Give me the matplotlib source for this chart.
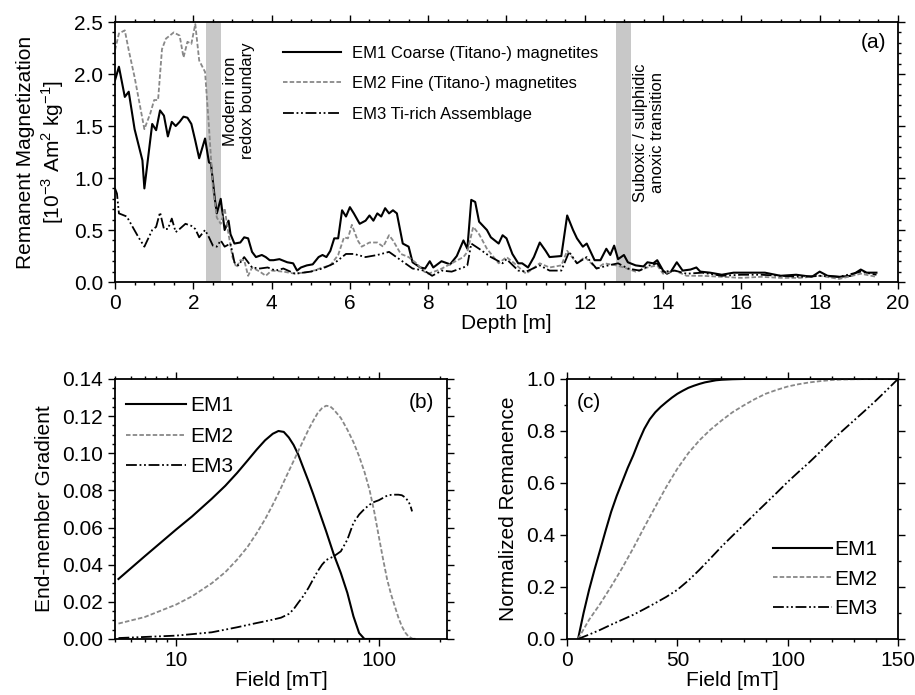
import numpy as np
import matplotlib.pyplot as plt
from matplotlib.ticker import MultipleLocator, LogLocator, FixedLocator, NullFormatter

plt.rcParams['font.family'] = ['Liberation Sans', 'DejaVu Sans']
plt.rcParams['mathtext.fontset'] = 'custom'
plt.rcParams['mathtext.rm'] = 'Liberation Sans'

# ---- panel (a): unmixed end-member magnetizations vs depth ----
depth_em1 = [0.0, 0.1, 0.25, 0.35, 0.5, 0.7, 0.75, 0.95, 1.05, 1.15, 1.25, 1.35, 1.45, 1.55,
             1.65, 1.75, 1.85, 1.95, 2.05, 2.15, 2.3, 2.4, 2.45, 2.55, 2.6, 2.7, 2.8, 2.9,
             2.95, 3.05, 3.2, 3.3, 3.4, 3.5, 3.6, 3.75, 3.85, 3.95, 4.05, 4.2, 4.4, 4.55,
             4.65, 4.75, 4.9, 5.05, 5.2, 5.3, 5.4, 5.5, 5.6, 5.7, 5.8, 5.9, 6.0, 6.1, 6.25,
             6.4, 6.5, 6.6, 6.7, 6.8, 6.9, 7.0, 7.1, 7.2, 7.35, 7.5, 7.6, 7.8, 7.92, 8.04,
             8.13, 8.34, 8.56, 8.73, 8.9, 9.0, 9.1, 9.2, 9.3, 9.5, 9.6, 9.8, 9.9, 10.0,
             10.15, 10.3, 10.4, 10.55, 10.7, 10.85, 11.0, 11.1, 11.4, 11.55, 11.7, 11.8,
             11.95, 12.05, 12.15, 12.25, 12.4, 12.55, 12.65, 12.75, 12.85, 13.0, 13.1, 13.3,
             13.5, 13.6, 13.75, 13.85, 14.0, 14.1, 14.2, 14.35, 14.5, 14.7, 14.85, 14.95,
             15.2, 15.5, 15.8, 16.2, 16.6, 17.0, 17.4, 17.8, 18.0, 18.2, 18.5, 18.8, 19.05,
             19.2, 19.45]
em1 = [1.94, 2.07, 1.78, 1.83, 1.47, 1.17, 0.90, 1.52, 1.46, 1.65, 1.60, 1.40, 1.54, 1.50,
       1.54, 1.59, 1.58, 1.52, 1.36, 1.19, 1.38, 1.15, 1.14, 0.80, 0.66, 0.80, 0.50, 0.59,
       0.46, 0.37, 0.38, 0.43, 0.42, 0.29, 0.24, 0.26, 0.24, 0.21, 0.21, 0.22, 0.19, 0.18,
       0.11, 0.14, 0.16, 0.17, 0.24, 0.26, 0.24, 0.30, 0.42, 0.42, 0.69, 0.63, 0.72, 0.66,
       0.56, 0.59, 0.64, 0.59, 0.66, 0.63, 0.71, 0.66, 0.69, 0.66, 0.37, 0.34, 0.19, 0.14,
       0.13, 0.20, 0.14, 0.20, 0.17, 0.25, 0.40, 0.32, 0.79, 0.77, 0.58, 0.50, 0.43, 0.37,
       0.45, 0.42, 0.27, 0.18, 0.18, 0.14, 0.24, 0.38, 0.30, 0.24, 0.25, 0.64, 0.50, 0.42,
       0.34, 0.37, 0.29, 0.21, 0.21, 0.32, 0.26, 0.35, 0.22, 0.26, 0.19, 0.16, 0.15, 0.19,
       0.18, 0.21, 0.11, 0.08, 0.10, 0.19, 0.11, 0.12, 0.14, 0.10, 0.09, 0.07, 0.09, 0.09,
       0.09, 0.06, 0.07, 0.05, 0.10, 0.06, 0.05, 0.06, 0.12, 0.09, 0.09]

depth_em2 = [0.0, 0.1, 0.25, 0.35, 0.5, 0.75, 0.9, 1.0, 1.1, 1.2, 1.3, 1.5, 1.65, 1.75, 1.85,
             1.95, 2.05, 2.15, 2.3, 2.4, 2.5, 2.6, 2.7, 2.8, 2.9, 3.0, 3.1, 3.2, 3.3, 3.4,
             3.5, 3.7, 3.85, 4.0, 4.3, 4.6, 5.0, 5.3, 5.5, 5.7, 5.85, 5.95, 6.05, 6.2, 6.3,
             6.5, 6.7, 6.85, 7.0, 7.1, 7.3, 7.5, 7.7, 7.9, 8.0, 8.3, 8.6, 8.9, 9.0, 9.15,
             9.3, 9.5, 9.8, 10.0, 10.2, 10.5, 10.85, 11.1, 11.4, 11.55, 11.8, 12.0, 12.3,
             12.5, 12.8, 13.0, 13.3, 13.6, 13.85, 14.0, 14.3, 14.6, 15.0, 15.5, 16.0, 16.5,
             17.0, 17.5, 18.0, 18.5, 19.05, 19.45]
em2 = [2.23, 2.39, 2.42, 2.23, 1.97, 1.47, 1.62, 1.75, 1.75, 2.24, 2.34, 2.40, 2.37, 2.16,
       2.31, 2.29, 2.48, 2.13, 2.02, 1.49, 0.91, 0.62, 0.56, 0.71, 0.46, 0.24, 0.14, 0.21,
       0.21, 0.06, 0.14, 0.10, 0.06, 0.11, 0.10, 0.08, 0.10, 0.14, 0.16, 0.26, 0.43, 0.42,
       0.55, 0.40, 0.34, 0.38, 0.38, 0.34, 0.45, 0.40, 0.27, 0.24, 0.18, 0.10, 0.08, 0.12,
       0.18, 0.24, 0.29, 0.53, 0.46, 0.32, 0.18, 0.24, 0.18, 0.08, 0.18, 0.14, 0.16, 0.30,
       0.18, 0.24, 0.13, 0.18, 0.16, 0.14, 0.10, 0.14, 0.16, 0.08, 0.11, 0.06, 0.06, 0.05,
       0.04, 0.05, 0.04, 0.04, 0.06, 0.03, 0.08, 0.05]

depth_em3 = [0.0, 0.05, 0.1, 0.3, 0.45, 0.6, 0.75, 0.95, 1.05, 1.15, 1.25, 1.35, 1.45, 1.55,
             1.65, 1.8, 1.95, 2.05, 2.15, 2.3, 2.4, 2.5, 2.6, 2.7, 2.8, 2.95, 3.05, 3.15,
             3.3, 3.5, 3.7, 3.9, 4.1, 4.3, 4.6, 5.0, 5.3, 5.6, 5.9, 6.1, 6.4, 6.7, 7.0, 7.3,
             7.6, 7.9, 8.1, 8.35, 8.6, 8.9, 9.0, 9.1, 9.3, 9.6, 9.9, 10.0, 10.3, 10.5, 10.85,
             11.1, 11.4, 11.6, 11.8, 12.05, 12.3, 12.6, 12.85, 13.1, 13.4, 13.65, 13.85, 14.0,
             14.3, 14.6, 15.0, 15.5, 16.0, 16.5, 17.0, 17.5, 18.0, 18.5, 19.05, 19.45]
em3 = [0.90, 0.85, 0.66, 0.63, 0.53, 0.43, 0.34, 0.50, 0.53, 0.67, 0.51, 0.51, 0.61, 0.48,
       0.51, 0.56, 0.54, 0.51, 0.43, 0.50, 0.43, 0.35, 0.34, 0.40, 0.34, 0.37, 0.19, 0.16,
       0.24, 0.14, 0.13, 0.14, 0.11, 0.13, 0.08, 0.10, 0.13, 0.18, 0.27, 0.27, 0.24, 0.26,
       0.29, 0.21, 0.13, 0.11, 0.06, 0.11, 0.10, 0.14, 0.16, 0.37, 0.32, 0.24, 0.18, 0.22,
       0.11, 0.10, 0.16, 0.11, 0.11, 0.29, 0.18, 0.24, 0.13, 0.16, 0.18, 0.13, 0.11, 0.16,
       0.18, 0.10, 0.11, 0.08, 0.09, 0.06, 0.07, 0.07, 0.06, 0.05, 0.06, 0.05, 0.10, 0.07]

bands = [(2.33, 2.71), (12.8, 13.17)]
band_labels = ["Modern iron\nredox boundary", "Suboxic / sulphidic\nanoxic transition"]
band_label_top = [2.30, 2.10]
legend_a = ["EM1 Coarse (Titano-) magnetites", "EM2 Fine (Titano-) magnetites",
            "EM3 Ti-rich Assemblage"]

# ---- panel (b): end-member coercivity gradients (log field) ----
field_b1 = [5.2, 7, 10, 12, 15, 17.5, 20, 22.5, 25, 27.5, 30, 32, 34, 36, 38, 40, 42.5, 45,
            47.5, 50, 55, 60, 65, 70, 75, 80, 85, 150]
grad_em1 = [0.0323, 0.0445, 0.0589, 0.0660, 0.0755, 0.0825, 0.0894, 0.0960, 0.1020, 0.1070,
            0.1105, 0.1120, 0.1115, 0.1085, 0.1045, 0.0995, 0.0920, 0.0850, 0.0780, 0.0710,
            0.0580, 0.0455, 0.0355, 0.0248, 0.0122, 0.0032, 0.0, 0.0]
field_b2 = [5.2, 7, 10, 12, 15, 17.5, 20, 22.5, 25, 27.5, 30, 32.5, 35, 37.5, 40, 42.5, 45,
            47.5, 50, 52.5, 55, 57.5, 60, 65, 70, 75, 80, 85, 90, 95, 100, 105, 110, 115,
            120, 125, 130, 135, 140, 146]
grad_em2 = [0.0083, 0.0118, 0.0185, 0.0230, 0.0300, 0.0360, 0.0427, 0.0495, 0.0570, 0.0645,
            0.0723, 0.0800, 0.0876, 0.0945, 0.1010, 0.1070, 0.1127, 0.1175, 0.1217, 0.1243,
            0.1256, 0.1253, 0.1235, 0.1190, 0.1127, 0.1060, 0.0984, 0.0900, 0.0804, 0.0685,
            0.0553, 0.0430, 0.0320, 0.0240, 0.0176, 0.0115, 0.0068, 0.0035, 0.0014, 0.0003]
field_b3 = [5.2, 10, 15, 20, 25, 30, 33, 36, 38, 40, 42.5, 45, 47.5, 50, 52.5, 55, 60, 65, 70,
            75, 80, 85, 90, 95, 100, 110, 115, 120, 125, 130, 135, 140, 143, 146]
grad_em3 = [0.0005, 0.0018, 0.0036, 0.0063, 0.0086, 0.0104, 0.0115, 0.0135, 0.0160, 0.0194,
            0.0232, 0.0275, 0.0322, 0.0365, 0.0400, 0.0425, 0.0445, 0.0472, 0.0535, 0.0625,
            0.0670, 0.0700, 0.0723, 0.0738, 0.0747, 0.0772, 0.0776, 0.0777, 0.0777, 0.0774,
            0.0762, 0.0741, 0.0720, 0.0687]

# ---- panel (c): normalized cumulative remanence ----
field_c1 = [5, 7.5, 10, 12.5, 15, 17.5, 20, 22.5, 25, 27.5, 30, 32.5, 35, 37.5, 40, 42.5, 45,
            47.5, 50, 52.5, 55, 57.5, 60, 62.5, 65, 67.5, 70, 75, 80, 150]
rem_em1 = [0.0, 0.100, 0.189, 0.268, 0.342, 0.417, 0.489, 0.550, 0.604, 0.658, 0.706, 0.760,
           0.808, 0.845, 0.872, 0.893, 0.911, 0.928, 0.943, 0.955, 0.966, 0.974, 0.981,
           0.987, 0.991, 0.995, 0.997, 0.999, 1.0, 1.0]
field_c2 = [5, 10, 15, 20, 25, 30, 35, 40, 45, 50, 55, 60, 65, 70, 75, 80, 85, 90, 95, 100,
            105, 110, 115, 120, 125, 130, 140, 150]
rem_em2 = [0.0, 0.074, 0.135, 0.202, 0.273, 0.349, 0.430, 0.508, 0.585, 0.655, 0.715, 0.764,
           0.805, 0.840, 0.872, 0.898, 0.922, 0.943, 0.958, 0.971, 0.980, 0.987, 0.992, 0.996,
           0.998, 0.999, 1.0, 1.0]
field_c3 = [5, 10, 15, 20, 25, 30, 35, 40, 45, 50, 55, 60, 65, 70, 75, 80, 85, 90, 95, 100,
            105, 110, 115, 120, 125, 130, 135, 140, 145, 150]
rem_em3 = [0.0, 0.017, 0.035, 0.055, 0.074, 0.093, 0.115, 0.138, 0.162, 0.189, 0.225, 0.266,
           0.310, 0.355, 0.397, 0.438, 0.480, 0.521, 0.562, 0.604, 0.643, 0.681, 0.722, 0.764,
           0.802, 0.840, 0.878, 0.917, 0.958, 1.0]

sty1 = dict(color="black", lw=1.5, ls="-")
sty2 = dict(color="#888888", lw=1.3, ls=(0, (2.5, 1.2)))
sty3 = dict(color="black", lw=1.3, ls=(0, (6, 1.5, 1, 1.5, 1, 1.5)))

FS = 15


def style_axes(ax):
    ax.tick_params(which="both", direction="out", top=True, right=True, labelsize=FS,
                   width=1.0)
    ax.tick_params(which="major", length=5)
    ax.tick_params(which="minor", length=2.5)
    for s in ax.spines.values():
        s.set_linewidth(1.3)


fig = plt.figure(figsize=(9.15, 6.95), dpi=100)
ax_a = fig.add_axes([0.1257, 0.5942, 0.8557, 0.3741])
ax_b = fig.add_axes([0.1257, 0.0806, 0.3628, 0.3741])
ax_c = fig.add_axes([0.6197, 0.0806, 0.3617, 0.3741])

# (a)
for (x0, x1), txt, ytop in zip(bands, band_labels, band_label_top):
    ax_a.axvspan(x0, x1, color="#c8c8c8", lw=0, zorder=0)
    ax_a.text(x1 + 0.05, ytop, txt, rotation=90, ha="left", va="top", fontsize=12,
              multialignment="center")
ax_a.plot(depth_em1, em1, label=legend_a[0], **sty1)
ax_a.plot(depth_em2, em2, label=legend_a[1], **sty2)
ax_a.plot(depth_em3, em3, label=legend_a[2], **sty3)
ax_a.set_xlim(0, 20)
ax_a.set_ylim(0, 2.5)
ax_a.xaxis.set_major_locator(MultipleLocator(2))
ax_a.xaxis.set_minor_locator(MultipleLocator(0.5))
ax_a.yaxis.set_major_locator(MultipleLocator(0.5))
ax_a.yaxis.set_minor_locator(MultipleLocator(0.1))
ax_a.yaxis.set_major_formatter(lambda v, p: f"{v:.1f}")
ax_a.set_xlabel("Depth [m]", fontsize=FS, labelpad=1)
ax_a.set_ylabel("Remanent Magnetization\n[10$^{-3}$ Am$^{2}$ kg$^{-1}$]", fontsize=FS,
                labelpad=6)
ax_a.legend(loc="upper left", bbox_to_anchor=(0.2056, 0.934), frameon=False, fontsize=12,
            handlelength=3.5, handletextpad=0.65, labelspacing=0.92, borderaxespad=0.0)
ax_a.text(0.985, 0.92, "(a)", transform=ax_a.transAxes, ha="right", va="center",
          fontsize=FS)
style_axes(ax_a)

# (b)
ax_b.plot(field_b1, grad_em1, label="EM1", **sty1)
ax_b.plot(field_b2, grad_em2, label="EM2", **sty2)
ax_b.plot(field_b3, grad_em3, label="EM3", **sty3)
ax_b.set_xscale("log")
ax_b.set_xlim(5, 217)
ax_b.set_ylim(0, 0.14)
ax_b.xaxis.set_major_locator(FixedLocator([10, 100]))
ax_b.xaxis.set_major_formatter(lambda v, p: f"{v:g}")
ax_b.xaxis.set_minor_locator(LogLocator(base=10, subs=np.arange(2, 10)))
ax_b.xaxis.set_minor_formatter(NullFormatter())
ax_b.yaxis.set_major_locator(MultipleLocator(0.02))
ax_b.yaxis.set_minor_locator(MultipleLocator(0.005))
ax_b.yaxis.set_major_formatter(lambda v, p: f"{v:.2f}")
ax_b.set_xlabel("Field [mT]", fontsize=FS, labelpad=1)
ax_b.set_ylabel("End-member Gradient", fontsize=FS, labelpad=6)
ax_b.legend(loc="upper left", bbox_to_anchor=(0.0, 0.977), frameon=False, fontsize=FS,
            handlelength=2.85, handletextpad=0.2, labelspacing=0.55, borderaxespad=0.15)
ax_b.text(0.96, 0.91, "(b)", transform=ax_b.transAxes, ha="right", va="center",
          fontsize=FS)
style_axes(ax_b)

# (c)
ax_c.plot(field_c1, rem_em1, label="EM1", **sty1)
ax_c.plot(field_c2, rem_em2, label="EM2", **sty2)
ax_c.plot(field_c3, rem_em3, label="EM3", **sty3)
ax_c.set_xlim(0, 150)
ax_c.set_ylim(0, 1.0)
ax_c.xaxis.set_major_locator(MultipleLocator(50))
ax_c.xaxis.set_minor_locator(MultipleLocator(10))
ax_c.yaxis.set_major_locator(MultipleLocator(0.2))
ax_c.yaxis.set_minor_locator(MultipleLocator(0.1))
ax_c.yaxis.set_major_formatter(lambda v, p: f"{v:.1f}")
ax_c.set_xlabel("Field [mT]", fontsize=FS, labelpad=1)
ax_c.set_ylabel("Normalized Remanence", fontsize=FS, labelpad=6)
ax_c.legend(loc="lower right", bbox_to_anchor=(1.0, 0.0), frameon=False, fontsize=FS,
            handlelength=2.85, handletextpad=0.1, labelspacing=0.5, borderaxespad=0.6)
ax_c.text(0.03, 0.91, "(c)", transform=ax_c.transAxes, ha="left", va="center",
          fontsize=FS)
style_axes(ax_c)

fig.savefig("out.png", dpi=100)
